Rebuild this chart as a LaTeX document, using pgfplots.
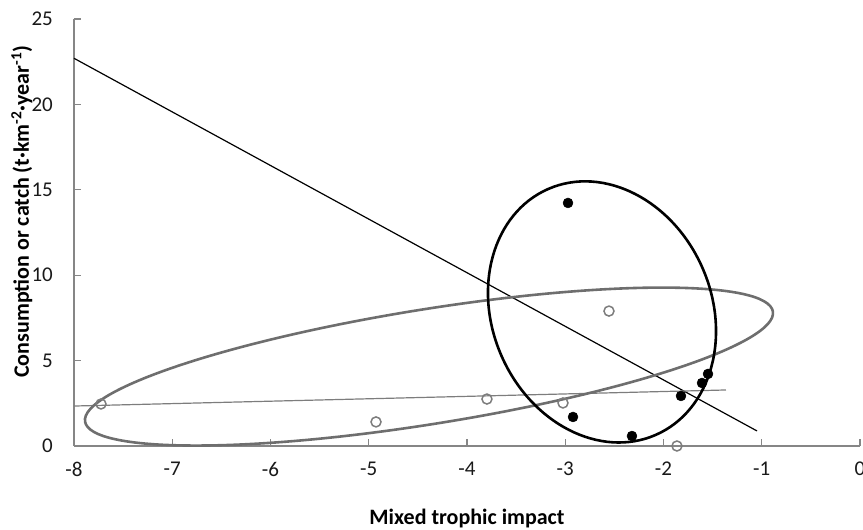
\documentclass[border=0pt]{standalone}
\usepackage{fontspec}
\setmainfont{Carlito}
\usepackage{pgfplots}
\pgfplotsset{compat=1.18}
\definecolor{axgray}{RGB}{134,134,134}
\definecolor{ellgray}{RGB}{110,110,110}
\definecolor{ptgray}{RGB}{125,125,125}
\begin{document}
\begin{tikzpicture}
\useasboundingbox (-74pt,-84pt) rectangle (789pt,446pt);
\begin{axis}[
  scale only axis, width=786pt, height=427pt,
  xmin=-8, xmax=0, ymin=0, ymax=25,
  axis x line*=bottom, axis y line*=left,
  axis line style={axgray, line width=1.2pt},
  tick style={axgray, line width=1.2pt},
  major tick length=7pt,
  tick align=inside,
  xtick={-8,-7,-6,-5,-4,-3,-2,-1,0},
  ytick={0,5,10,15,20,25},
  /pgf/number format/assume math mode=true,
  ticklabel style={font=\fontsize{21}{24}\selectfont, inner sep=0pt, text=black!90},
  xticklabel style={anchor=north, yshift=-16pt},
  yticklabel style={anchor=east, xshift=-21pt},
  xlabel={\bfseries Mixed trophic impact},
  ylabel={\bfseries Consumption or catch (t·km\textsuperscript{-2}·year\textsuperscript{-1})},
  label style={font=\fontsize{22}{24}\selectfont, inner sep=0pt},
  xlabel style={at={(axis description cs:0.5,0)}, anchor=base, yshift=-79pt},
  ylabel style={at={(axis description cs:-0.0573,0.549)}, anchor=base},
  clip=false,
]
% regression lines
\addplot[black, line width=1.2pt] coordinates {(-8,22.7) (-1.048,0.88)};
\addplot[ptgray, line width=1.2pt] coordinates {(-8,2.34) (-1.364,3.28)};
% ellipses
\draw[ellgray, line width=2.6pt, rotate around={9.09:(axis cs:-4.387,4.65)}]
  (axis cs:-4.387,4.65) ellipse [x radius=348.3pt, y radius=57.4pt];
\draw[black, line width=2.6pt, rotate around={23.7:(axis cs:-2.626,7.85)}]
  (axis cs:-2.626,7.85) ellipse [x radius=109.7pt, y radius=134.2pt];
% consumption (filled)
\addplot[only marks, mark=*, mark size=5pt, mark options={fill=black, draw=black}]
  coordinates {(-2.972,14.23) (-2.921,1.70) (-2.321,0.585) (-1.822,2.93) (-1.608,3.69) (-1.547,4.22)};
% catch (open)
\addplot[only marks, mark=o, mark size=5pt, mark options={draw=ptgray, line width=1.5pt}]
  coordinates {(-7.725,2.46) (-4.926,1.41) (-3.797,2.75) (-3.023,2.52) (-2.555,7.90) (-1.863,0.0)};
\end{axis}
\end{tikzpicture}
\end{document}
